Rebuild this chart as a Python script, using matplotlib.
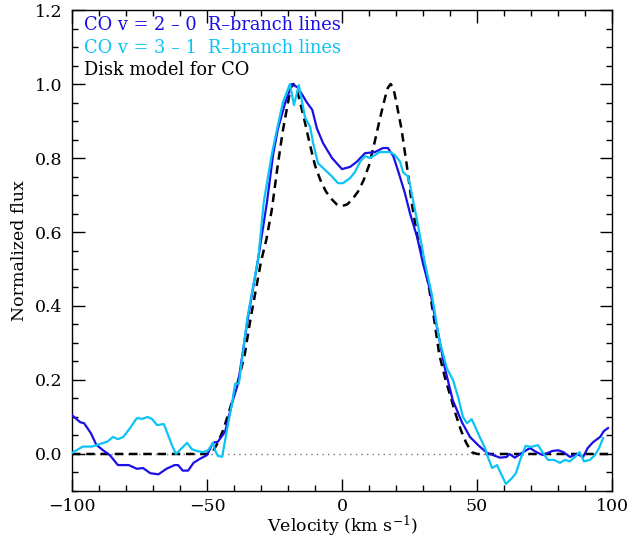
import matplotlib
matplotlib.use("Agg")
import matplotlib.pyplot as plt
from matplotlib.ticker import MultipleLocator, FormatStrFormatter

plt.rcParams['font.family'] = ['DejaVu Serif']
plt.rcParams['mathtext.fontset'] = 'dejavuserif'

# CO v=2-0 R-branch lines
v20_vel = [-100, -97, -95.5, -93, -91, -88.5, -86, -83, -79, -76, -73.7, -71, -68, -65, -62,
           -60.7, -59, -57, -55, -52.6, -50, -47.8, -46, -43.3, -40.4, -38.5, -34.8, -31,
           -27.8, -25.5, -23.7, -21, -18.5, -16.3, -13, -11, -9.3, -7, -3.7, 0, 3, 5.5, 8.5,
           12.2, 15.2, 17, 19, 20.7, 23.3, 25.2, 27.8, 30, 32.6, 34.4, 35.6, 38, 41, 44.4,
           47.4, 50.4, 53.7, 58.5, 61, 62, 64, 66.7, 69.6, 72, 74.4, 77.8, 80, 82, 84.4, 87,
           89.3, 91, 93, 95.6, 97, 98.5]
v20_flux = [0.105, 0.086, 0.083, 0.056, 0.025, 0.01, -0.003, -0.03, -0.03, -0.04, -0.038,
            -0.052, -0.055, -0.04, -0.03, -0.03, -0.045, -0.045, -0.024, -0.013, -0.003,
            0.03, 0.033, 0.06, 0.146, 0.19, 0.37, 0.53, 0.68, 0.81, 0.88, 0.95, 1.0, 0.99,
            0.95, 0.93, 0.88, 0.84, 0.80, 0.77, 0.776, 0.79, 0.813, 0.816, 0.827, 0.827,
            0.805, 0.767, 0.705, 0.65, 0.587, 0.515, 0.443, 0.37, 0.327, 0.235, 0.146,
            0.086, 0.046, 0.024, 0.003, -0.01, -0.008, 0.0, -0.01, 0.003, 0.016, 0.005,
            -0.003, 0.008, 0.01, 0.005, -0.008, 0.0, -0.008, 0.016, 0.032, 0.046, 0.062, 0.07]

# CO v=3-1 R-branch lines
v31_vel = [-100, -96, -92.6, -89.6, -87, -84.8, -83, -81, -78.5, -76, -74, -72, -70.4, -68.5,
           -66, -64.4, -63, -61.5, -59.3, -57.4, -55.6, -53.7, -51.5, -49.6, -47.8, -47, -46,
           -44.4, -42.6, -40.7, -39.6, -38.2, -35, -31, -29, -26, -24, -21.9, -19.3, -17.8,
           -16, -13.7, -11.8, -10.7, -8.9, -6.3, -3.7, -1.5, 0.4, 3, 4.8, 6.7, 8.5, 10.4,
           12.2, 14, 17.8, 19.6, 21.5, 22.6, 24.4, 25.2, 26.3, 28, 30.7, 33.3, 36, 38.8,
           41.1, 43, 44.8, 46.3, 48, 49.3, 51, 53, 54, 55.6, 57.4, 60.7, 63, 64.4, 66, 68,
           70, 72.6, 74.4, 76.3, 78.5, 80.7, 82.6, 84.4, 86.3, 88, 89.6, 91.8, 93.7, 95.2,
           96.7]
v31_flux = [0.003, 0.02, 0.02, 0.027, 0.033, 0.046, 0.04, 0.046, 0.07, 0.097, 0.095, 0.1,
            0.095, 0.078, 0.081, 0.051, 0.024, 0.0, 0.016, 0.03, 0.013, 0.008, 0.005, 0.01,
            0.03, 0.01, -0.005, -0.008, 0.065, 0.138, 0.19, 0.19, 0.37, 0.53, 0.68, 0.81,
            0.88, 0.95, 1.0, 0.943, 0.997, 0.91, 0.884, 0.84, 0.786, 0.768, 0.75, 0.732,
            0.732, 0.746, 0.762, 0.79, 0.805, 0.80, 0.808, 0.816, 0.816, 0.808, 0.79, 0.762,
            0.75, 0.727, 0.686, 0.624, 0.516, 0.43, 0.31, 0.232, 0.2, 0.154, 0.1, 0.083,
            0.094, 0.074, 0.046, 0.016, -0.008, -0.038, -0.03, -0.081, -0.065, -0.052,
            -0.016, 0.022, 0.019, 0.024, 0.003, -0.016, -0.016, -0.024, -0.016, -0.02,
            -0.008, 0.005, -0.02, -0.016, -0.003, 0.016, 0.043]

# Disk model for CO
model_vel = [-100, -50, -48, -46, -44, -42, -40, -38, -36, -34, -32, -30, -28, -26, -24, -22,
             -20, -19, -18, -17, -16, -14, -12, -10, -8, -6, -4, -2, 0, 2, 4, 6, 8, 10, 12,
             14, 16, 17, 18, 19, 20, 22, 24, 26, 28, 30, 32, 34, 36, 38, 40, 42, 44, 46, 48,
             50, 100]
model_flux = [0.0, 0.0, 0.005, 0.03, 0.065, 0.11, 0.16, 0.21, 0.27, 0.36, 0.44, 0.52, 0.58,
              0.66, 0.77, 0.87, 0.95, 0.99, 1.0, 0.99, 0.965, 0.905, 0.84, 0.78, 0.74, 0.71,
              0.69, 0.675, 0.67, 0.675, 0.69, 0.71, 0.74, 0.78, 0.84, 0.905, 0.965, 0.99, 1.0,
              0.99, 0.955, 0.88, 0.78, 0.67, 0.585, 0.53, 0.46, 0.37, 0.27, 0.21, 0.16, 0.11,
              0.065, 0.03, 0.005, 0.0, 0.0]

legend_labels = ["CO v = 2 \u2013 0  R\u2013branch lines",
                 "CO v = 3 \u2013 1  R\u2013branch lines",
                 "Disk model for CO"]

c_blue = '#1A0FE6'
c_cyan = '#0BC4F5'

fig = plt.figure(figsize=(6.31, 5.39), dpi=100)
ax = fig.add_axes([0.1141, 0.0891, 0.8558, 0.8923])

ax.axhline(0, color='#777777', lw=1.0, ls=(0, (1, 3)), zorder=1)
ax.plot(model_vel, model_flux, color='black', lw=1.8, dashes=(3.4, 2.3), zorder=2)
ax.plot(v20_vel, v20_flux, color=c_blue, lw=1.6, zorder=3)
ax.plot(v31_vel, v31_flux, color=c_cyan, lw=1.6, zorder=4)

ax.set_xlim(-100, 100)
ax.set_ylim(-0.1, 1.2)
ax.xaxis.set_major_locator(MultipleLocator(50))
ax.xaxis.set_minor_locator(MultipleLocator(10))
ax.yaxis.set_major_locator(MultipleLocator(0.2))
ax.yaxis.set_minor_locator(MultipleLocator(0.05))
ax.yaxis.set_major_formatter(FormatStrFormatter('%.1f'))
ax.tick_params(which='both', direction='in', top=True, right=True, labelsize=12.5, width=1)
ax.tick_params(axis='x', which='major', length=9, pad=5)
ax.tick_params(axis='y', which='major', length=9, pad=7)
ax.tick_params(which='minor', length=4.5)
for s in ax.spines.values():
    s.set_linewidth(1.0)

ax.set_xlabel('Velocity (km s$^{-1}$)', fontsize=12.5, labelpad=-1)
ax.set_ylabel('Normalized flux', fontsize=12.5, labelpad=5)

ys = [0.969, 0.921, 0.875]
cols = [c_blue, c_cyan, 'black']
for lab, yy, cc in zip(legend_labels, ys, cols):
    ax.text(0.022, yy, lab, transform=ax.transAxes, color=cc, fontsize=12.8, va='center', ha='left')

fig.savefig('out.png', dpi=100)
